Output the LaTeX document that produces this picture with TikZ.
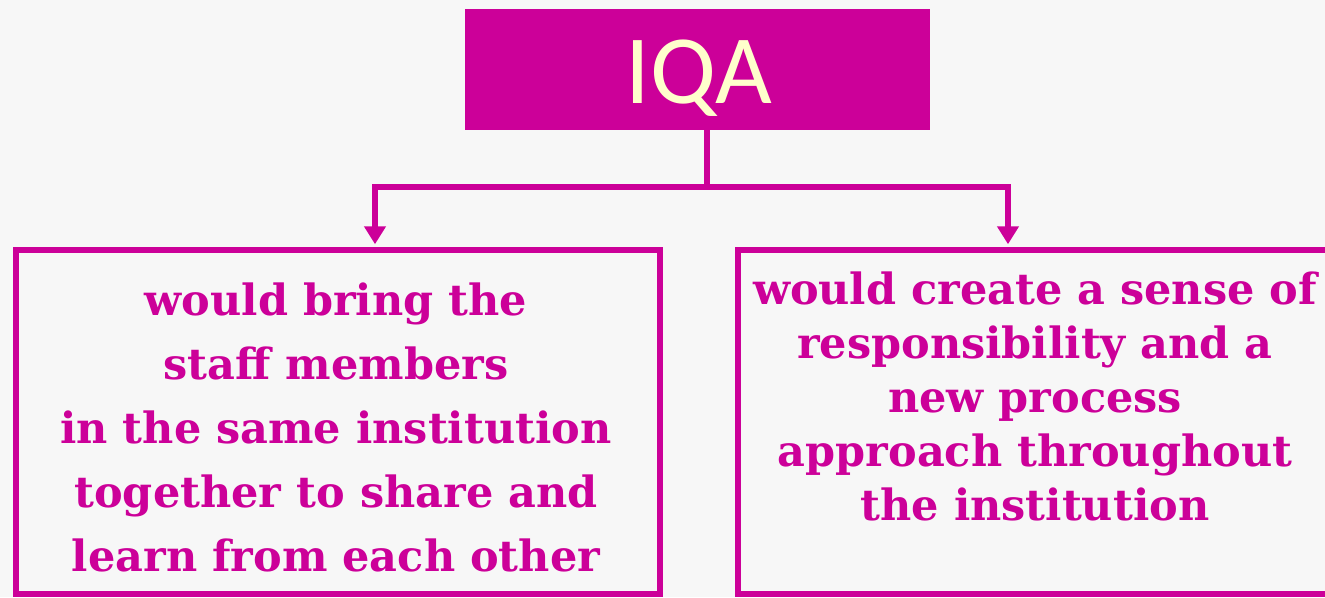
\documentclass[tikz,border=0pt]{standalone}
\usepackage{fontspec}
\setmainfont{DejaVu Serif}
\newfontfamily\headfont{Carlito}
\usetikzlibrary{arrows.meta,positioning}
\definecolor{plum}{HTML}{CC0099}
\definecolor{cream}{HTML}{FFFFCC}
\definecolor{paper}{HTML}{F7F7F7}
\tikzset{
  head/.style={fill=plum, draw=plum, minimum width=464pt, minimum height=120pt, inner sep=0pt},
  card/.style={draw=plum, line width=5.5pt, inner sep=0pt},
  cardtext/.style={text=plum, align=center, font=\bfseries\fontsize{43}{64}\selectfont},
  link/.style={draw=plum, line width=6pt},
  arr/.style={link, -{Triangle[width=21pt,length=18pt]}}
}
\begin{document}
\begin{tikzpicture}[x=1pt,y=-1pt]
  \fill[paper] (0,0) rectangle (1325,597);
  \useasboundingbox (0,0) rectangle (1325,597);
  \clip (0,0) rectangle (1325,597);

  % heading box
  \node[head] (iqa) at (697,69) {};
  \node[text=cream, font=\headfont\fontsize{98}{98}\selectfont, anchor=base] at (699,103) {IQA};

  % the two outcome boxes
  \node[card, minimum width=644pt, minimum height=344pt] (bring) at (338,422) {};
  \node[card, minimum width=602pt, minimum height=344pt] (sense) at (1039,422) {};

  \node[cardtext] at (336,427) {would bring the\\staff members\\in the same institution\\together to share and\\learn from each other};
  \node[cardtext, font=\bfseries\fontsize{43}{54}\selectfont] at (1035,396) {would create a sense of\\responsibility and a\\new process\\approach throughout\\the institution};

  % fork from heading down to both boxes
  \coordinate (fork) at (707,187);
  \draw[link] ([xshift=10pt]iqa.south) -- (fork);
  \draw[arr] (fork) -| ([xshift=37pt,yshift=3pt]bring.north);
  \draw[arr] (fork) -| ([xshift=-31pt,yshift=3pt]sense.north);
\end{tikzpicture}
\end{document}
